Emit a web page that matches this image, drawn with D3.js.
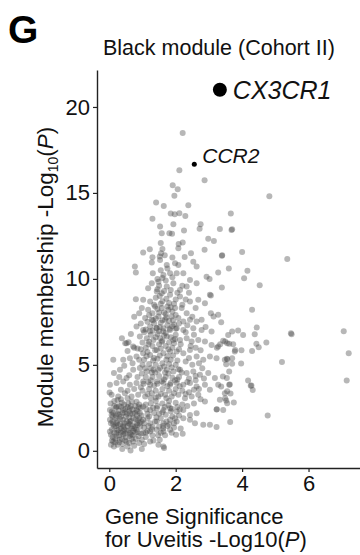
<!DOCTYPE html>
<html>
<head>
<meta charset="utf-8">
<script src="https://cdn.jsdelivr.net/npm/d3@7"></script>
<style>
  body { margin: 0; background: #fff; }
  svg { display: block; font-family: "Liberation Sans", Arial, sans-serif; }
</style>
</head>
<body>
<div id="chart"></div>
<script>
// gene significance (x) / module membership (y), both -log10(P)
const genePoints = [
  [4.82,14.8],[3.66,13.8],[3.33,12.9],[3.68,12.85],[3.7,12.88],[4.0,11.57],[5.36,11.15],[3.39,11.34],[3.6,10.6],[4.16,10.48],
  [4.06,10.04],[4.53,9.63],[3.39,9.5],[4.3,8.2],[3.37,7.48],[4.44,7.17],[3.88,7.0],[4.03,6.73],[4.38,6.78],[5.47,6.84],
  [5.49,6.78],[7.06,6.96],[7.21,5.68],[7.15,4.09],[3.58,6.74],[4.73,6.3],[4.43,6.22],[4.5,6.03],[4.3,5.8],[3.98,5.85],
  [3.78,5.77],[3.61,6.22],[3.43,6.4],[5.2,5.17],[3.97,5.08],[3.7,5.06],[3.52,5.04],[3.54,5.35],[3.56,5.33],[3.7,5.39],
  [3.61,4.61],[4.18,4.09],[4.26,3.78],[4.28,3.8],[4.32,3.53],[3.54,4.23],[3.61,3.84],[3.63,3.86],[3.37,3.74],[3.65,3.33],
  [3.55,3.47],[3.33,2.97],[3.52,2.92],[3.75,2.81],[3.43,2.38],[3.64,1.67],[4.77,2.05],
  [2.21,18.49],[2.11,16.32],[2.87,15.74],[1.91,15.45],[2.06,15.22],[1.96,14.83],[1.41,14.44],[1.64,14.24],[2.38,14.28],[1.85,13.8],
  [1.97,13.76],[2.11,13.82],[2.29,13.66],[1.3,13.5],[1.53,13.04],[1.93,13.18],[2.75,13.18],[2.72,12.92],[1.58,12.66],[1.81,12.66],
  [1.89,12.62],[2.25,12.81],[2.98,12.34],[3.15,12.21],[1.55,12.09],[2.09,12.03],[2.21,12.11],[1.02,11.53],[1.22,11.73],[1.56,11.49],
  [1.67,11.38],[2.08,11.78],[2.46,11.49],[2.87,11.69],[3.4,11.38],[1.3,11.26],[1.52,11.3],[1.9,11.24],[2.27,11.28],[1.6,11.74],
  [1.28,10.95],[1.53,11.1],[1.73,10.81],[1.98,10.91],[2.08,10.81],[2.53,11.0],[2.63,10.72],[0.77,10.72],[0.8,10.37],[1.31,10.33],
  [1.63,10.23],[1.83,10.33],[2.03,10.33],[2.23,10.33],[2.93,10.13],[3.28,10.37],[3.03,9.07],[2.63,9.75],[2.43,9.94],[2.33,9.55],
  [2.13,9.36],[1.93,9.75],[1.73,9.55],[1.48,9.84],[1.28,9.75],[1.17,9.46],[1.43,9.26],[1.58,9.17],[1.83,9.07],[2.13,8.97],
  [2.43,8.68],[2.68,8.78],[2.88,8.59],[0.8,8.82],[1.02,8.78],[1.23,8.68],[0.98,8.3],[1.17,8.2],[1.38,8.39],[1.58,8.3],
  [1.78,8.2],[1.98,8.3],[2.18,8.3],[2.33,8.0],[3.06,8.0],[3.28,7.91],[0.9,8.0],[1.08,7.72],[1.28,7.62],[1.48,7.81],
  [1.68,7.62],[1.88,7.81],[2.08,7.72],[2.23,7.52],[2.43,7.62],[2.63,7.52],[2.78,7.62],[0.82,7.23],[1.02,7.03],[1.23,7.23],
  [1.43,7.13],[1.63,7.13],[1.83,7.03],[2.03,7.13],[2.23,7.03],[2.53,7.13],[2.78,7.03],[3.08,6.94],[0.38,6.55],[0.52,6.26],
  [0.72,6.06],[0.92,6.65],[1.13,6.55],[1.33,6.45],[1.53,6.55],[1.73,6.65],[1.93,6.45],[2.13,6.45],[2.33,6.55],[2.48,6.36],
  [2.68,6.45],[2.88,6.36],[3.08,6.16],[3.28,6.06],[3.55,6.26],[3.79,5.87],[0.12,5.29],[0.42,5.29],[0.62,5.39],[0.82,5.48],
  [1.02,5.68],[1.23,5.58],[1.43,5.87],[1.63,5.68],[1.83,5.77],[2.03,5.77],[2.23,5.68],[2.43,5.87],[2.63,5.48],[2.83,5.29],
  [3.03,5.48],[3.23,5.39],[3.48,5.29],[0.14,4.52],[0.32,4.71],[0.52,4.23],[0.72,4.71],[0.92,4.81],[1.13,4.61],[1.33,4.71],
  [1.53,4.81],[1.73,4.71],[1.93,4.61],[2.13,4.71],[2.33,4.52],[2.53,4.61],[2.73,4.42],[2.98,4.52],[3.18,4.23],[3.42,4.32],
  [0.02,3.84],[0.22,3.94],[0.42,4.03],[0.62,3.84],[0.82,3.94],[1.02,4.03],[1.23,3.84],[1.43,4.03],[1.63,3.94],[1.83,3.84],
  [2.03,3.94],[2.23,3.84],[2.43,3.94],[2.63,3.74],[2.88,3.84],[3.03,3.55],[3.28,3.84],[3.48,3.35],[0.07,3.26],[0.27,3.16],
  [0.47,3.35],[0.67,3.16],[0.87,3.26],[1.08,3.16],[1.28,3.35],[1.48,3.16],[1.68,3.26],[1.88,3.16],[2.08,3.26],[2.28,3.06],
  [2.48,3.16],[2.68,3.26],[2.88,2.87],[3.23,2.4],[0.02,2.38],[0.22,2.58],[0.42,2.38],[0.62,2.48],[0.82,2.38],[1.02,2.58],
  [1.23,2.38],[1.43,2.48],[1.63,2.38],[1.83,2.48],[2.03,2.29],[2.23,2.38],[2.43,2.09],[2.63,2.19],[2.83,1.51],[3.03,1.51],
  [3.23,1.38],[0.02,1.8],[0.22,1.61],[0.42,1.8],[0.62,1.7],[0.82,1.61],[1.02,1.8],[1.23,1.61],[1.43,1.7],[1.63,1.61],
  [1.83,1.8],[2.03,1.7],[2.23,1.9],[2.43,1.8],[2.58,1.61],[0.02,1.12],[0.22,1.03],[0.42,1.12],[0.62,1.03],[0.82,1.22],
  [1.02,1.03],[1.23,1.12],[1.43,1.22],[1.63,1.12],[1.83,1.22],[2.01,0.93],[2.21,0.99],[0.12,0.54],[0.32,0.64],[0.52,0.54],
  [0.72,0.54],[0.98,0.64],[1.23,0.54],[1.48,0.35],[1.63,0.25],[0.14,0.25],[0.39,0.1],[0.64,0.02],[0.98,0.1],[1.65,0.16],
  [0.01,3.39],[0.08,2.29],[0.05,0.93],[3.55,2.77],[3.49,3.06],[3.24,2.42],[0.48,6.26],[0.58,6.32],[0.75,6.0],[3.02,9.99],
  [3.06,9.03],[3.14,7.81],[3.7,6.94],[3.34,6.2],[3.49,6.36],[3.73,6.2],[3.24,6.0],
  [0.1,0.8],[0.3,0.9],[0.5,0.8],[0.7,0.9],[0.15,1.4],[0.35,1.3],[0.55,1.45],[0.75,1.3],[0.1,2.0],[0.3,2.1],
  [0.5,2.0],[0.7,2.15],[0.9,1.9],[0.2,2.5],[0.45,2.7],[0.65,2.6],[0.85,2.3],[0.05,1.6],[0.25,1.75],[0.45,1.6],
  [0.65,1.75],[0.85,1.5],[0.95,1.0],[0.4,0.4],[0.25,0.35],[0.6,0.45],[0.8,0.7],[1.1,0.8],[1.3,1.4],[1.15,1.9],
  [1.35,2.2],[1.1,2.7],[1.4,2.9],[1.55,1.9],[1.7,2.1],[1.9,2.0],[1.5,1.4],[1.75,1.45],[1.95,1.35],[1.05,1.35],
  [0.9,2.7],[0.15,2.9],[0.35,3.0],[0.55,3.05],
  [1.0,3.5],[1.2,3.6],[1.4,3.5],[1.6,3.6],[1.8,3.5],[2.0,3.6],[1.1,4.3],[1.3,4.3],[1.5,4.35],[1.7,4.3],
  [1.9,4.25],[2.1,4.3],[1.0,5.0],[1.2,5.05],[1.4,5.0],[1.6,5.1],[1.8,5.05],[2.0,5.0],[1.1,6.0],[1.3,6.1],
  [1.5,6.2],[1.7,6.1],[1.9,6.0],[2.1,5.9],[1.05,6.9],[1.25,6.75],[1.45,6.8],[1.65,6.7],[1.85,6.6],[1.15,7.5],
  [1.35,7.4],[1.55,7.45],[1.75,7.3],[1.95,7.35],[1.3,8.0],[1.5,8.05],[1.7,7.95],[1.9,8.1],[1.4,8.9],[1.6,8.7],
  [1.8,8.6],[2.0,8.8],[1.5,9.6],[1.7,9.9],[1.9,10.1],[1.55,10.5],[1.75,10.6],[2.2,9.6],[2.3,5.2],[2.5,5.0],
  [2.4,4.2],[2.6,4.1],[2.2,3.5],[2.4,3.4],[2.2,2.7],[2.0,2.8],[1.8,2.9],[1.6,2.75],[2.35,2.6],[2.55,2.75],
  [2.7,3.6],[2.85,4.2],[2.6,6.0],[2.3,6.9],[2.5,7.8],[2.0,7.1],[2.2,8.5],[2.4,9.2],
  [0.05,0.35],[0.18,0.7],[0.28,1.2],[0.38,0.7],[0.47,1.0],[0.58,1.2],[0.68,0.7],[0.78,1.05],[0.88,0.85],[0.93,1.4],
  [0.08,1.25],[0.18,1.9],[0.33,1.55],[0.4,2.2],[0.52,1.7],[0.6,2.3],[0.72,1.9],[0.78,2.6],[0.92,2.2],[0.97,1.7],
  [0.12,2.2],[0.28,2.35],[0.38,2.8],[0.48,2.45],[0.57,2.75],[0.7,2.4],[0.82,2.85],[0.95,2.5],[0.04,2.75],[0.25,2.95],
  [0.15,1.05],[0.33,1.85],[0.45,1.25],[0.62,1.55],[0.72,1.15],[0.87,1.75],[0.3,0.5],[0.55,0.25],[0.75,0.3],[0.9,0.45],
  [0.2,1.45],[0.42,0.95],[0.65,0.95],[0.83,2.05],[0.53,2.15],[0.36,2.55],[0.1,1.7],[0.6,1.95],[0.25,2.15],[0.78,1.4],
  [1.05,0.4],[1.15,1.15],[1.2,2.0],[1.3,0.9],[1.38,1.7],[1.45,2.6],[1.55,1.05],[1.6,2.25],[1.72,1.7],[1.85,2.3],
  [1.12,2.4],[1.25,2.75],[1.33,0.6],[1.52,0.65],[1.68,0.9],[1.78,2.65],[1.95,1.6],[2.1,2.05],[2.15,1.3],[1.05,1.6],
  [1.18,1.45],[1.42,1.95],[1.62,1.3],[1.88,1.05],[2.05,2.55],
  [0.95,3.7],[1.15,3.3],[1.35,3.8],[1.55,3.3],[1.75,3.75],[1.95,3.35],[2.12,3.75],[0.98,4.5],[1.18,4.0],[1.38,4.55],
  [1.58,4.05],[1.78,4.5],[1.98,4.1],[2.18,4.55],[1.05,5.3],[1.25,4.8],[1.45,5.35],[1.65,4.9],[1.85,5.3],[2.05,5.25],
  [0.95,5.9],[1.15,5.75],[1.35,5.4],[1.55,5.95],[1.75,5.5],[1.95,6.25],[2.15,6.2],[1.0,6.3],[1.2,6.35],[1.4,6.6],
  [1.6,6.4],[1.8,6.3],[2.0,6.75],[1.1,7.05],[1.3,7.0],[1.5,6.95],[1.7,6.85],[1.9,7.25],[2.1,7.4],[1.2,7.9],
  [1.4,7.7],[1.6,7.6],[1.8,7.55],[2.0,7.9],[1.35,8.5],[1.55,8.55],[1.75,8.4],[1.95,8.55],[1.45,9.4],[1.65,9.3],
  [1.85,9.35],[2.05,9.2],[1.6,10.05],[1.45,10.0],
  [0.35,3.55],[0.55,3.5],[0.75,3.6],[0.3,4.3],[0.6,4.4],[0.85,4.3],[0.45,4.95],[0.7,5.1],[0.9,5.3],[0.55,5.8],
  [0.85,5.95],[0.65,6.8],[0.95,7.4],[0.75,7.8],
  [2.3,3.3],[2.55,3.55],[2.75,3.0],[2.35,4.0],[2.6,4.35],[2.8,4.8],[2.4,5.4],[2.7,5.1],[2.45,6.1],[2.75,5.85],
  [2.55,6.75],[2.9,7.2],[2.35,7.3],[2.6,8.3],[2.3,8.8],
  [0.08,0.6],[0.22,0.85],[0.35,1.05],[0.48,0.6],[0.62,0.85],[0.85,1.1],[0.12,1.55],[0.27,1.5],[0.43,1.4],[0.58,1.6],
  [0.7,1.45],[0.92,1.6],[0.07,2.1],[0.2,2.05],[0.35,2.0],[0.47,2.25],[0.63,2.15],[0.77,2.2],[0.88,2.55],[0.3,2.6],
  [0.55,2.55],[0.68,2.85],[0.15,2.6],[0.42,1.45],[0.52,1.15],[0.67,1.3],[0.8,1.85],[0.97,2.05],[0.25,1.2],[0.18,0.5],
  [1.03,3.9],[1.25,4.1],[1.45,3.9],[1.65,4.15],[1.85,3.95],[2.05,4.15],[1.08,4.8],[1.28,4.55],[1.48,4.7],[1.68,4.55],
  [1.88,4.85],[2.08,4.75],[1.12,5.5],[1.32,5.25],[1.52,5.55],[1.72,5.3],[1.92,5.55],[1.18,6.2],[1.38,5.85],[1.58,6.35],
  [1.78,5.9],[1.98,6.5],[1.22,6.95],[1.42,7.15],[1.62,6.95],[1.82,7.1],[1.32,7.6],[1.52,7.2],[1.72,7.75],[1.92,7.6],
  [1.45,8.25],[1.65,8.05],[1.85,8.35],[1.52,9.0],[1.72,8.85],
  [1.1,1.05],[1.28,1.25],[1.47,0.9],[1.62,1.45],[1.8,1.55],[1.98,1.9],[1.15,2.15],[1.32,2.5],[1.5,2.15],[1.67,2.55],
  [1.88,2.45],[2.12,2.4],[1.4,3.1],[1.72,3.05],[1.25,3.05]
];

const hubGenes = ["CX3CR1", "CCR2"];
const hubGS = [3.33, 2.56];
const hubMM = [21.0, 16.67];

const xTicks = [0, 2, 4, 6];
const yTicks = [0, 5, 10, 15, 20];

const width = 360, height = 555;
const plot = { left: 97, right: 360, top: 70, bottom: 468 };

const svg = d3.select("#chart")
  .append("svg")
  .attr("width", width)
  .attr("height", height);

const x = d3.scaleLinear().domain([-0.37, 7.55]).range([plot.left, plot.right]);
const y = d3.scaleLinear().domain([-1, 22.15]).range([plot.bottom, plot.top]);

// points
svg.append("g")
  .selectAll("circle")
  .data(genePoints)
  .join("circle")
  .attr("cx", d => x(d[0]))
  .attr("cy", d => y(d[1]))
  .attr("r", 3)
  .attr("fill", "#4a4a4a")
  .attr("fill-opacity", 0.4);

// axes
const xAxis = svg.append("g")
  .attr("transform", `translate(0,${plot.bottom})`)
  .call(d3.axisBottom(x).tickValues(xTicks).tickSize(4).tickSizeOuter(0).tickPadding(3));

const yAxis = svg.append("g")
  .attr("transform", `translate(${plot.left},0)`)
  .call(d3.axisLeft(y).tickValues(yTicks).tickSize(4).tickSizeOuter(0).tickPadding(3));

[xAxis, yAxis].forEach(a => {
  a.select(".domain").attr("stroke", "#222").attr("stroke-width", 1.4);
  a.selectAll(".tick line").attr("stroke", "#222").attr("stroke-width", 1.2);
  a.selectAll(".tick text")
    .attr("fill", "#111")
    .attr("font-size", 22)
    .attr("font-family", "Liberation Sans, Arial, sans-serif");
});

// highlighted genes
const hubs = hubGenes.map((g, i) => ({ gene: g, gs: hubGS[i], mm: hubMM[i] }));

svg.selectAll(".hub")
  .data(hubs)
  .join("circle")
  .attr("class", "hub")
  .attr("cx", d => x(d.gs))
  .attr("cy", d => y(d.mm))
  .attr("r", (d, i) => i === 0 ? 7 : 2.5)
  .attr("fill", "#000");

svg.selectAll(".hub-label")
  .data(hubs)
  .join("text")
  .attr("class", "hub-label")
  .attr("x", (d, i) => x(d.gs) + (i === 0 ? 13 : 8))
  .attr("y", (d, i) => y(d.mm) + (i === 0 ? 9 : -1))
  .attr("font-size", (d, i) => i === 0 ? 25 : 21)
  .attr("font-style", "italic")
  .attr("fill", "#111")
  .text(d => d.gene);

// titles
svg.append("text")
  .attr("x", 8)
  .attr("y", 43)
  .attr("font-size", 39)
  .attr("font-weight", "bold")
  .attr("fill", "#000")
  .text("G");

svg.append("text")
  .attr("x", 103)
  .attr("y", 55)
  .attr("font-size", 21.5)
  .attr("fill", "#111")
  .text("Black module (Cohort II)");

const yLab = svg.append("text")
  .attr("transform", "translate(53,277) rotate(-90)")
  .attr("text-anchor", "middle")
  .attr("font-size", 22.5)
  .attr("fill", "#111");
yLab.append("tspan").text("Module membership -Log");
yLab.append("tspan").attr("font-size", 14).attr("dy", 5).text("10");
yLab.append("tspan").attr("dy", -5).text("(");
yLab.append("tspan").attr("font-style", "italic").text("P");
yLab.append("tspan").text(")");

svg.append("text")
  .attr("x", 105)
  .attr("y", 524)
  .attr("font-size", 22)
  .attr("fill", "#111")
  .text("Gene Significance");

const xLab2 = svg.append("text")
  .attr("x", 105)
  .attr("y", 547)
  .attr("font-size", 22)
  .attr("fill", "#111");
xLab2.append("tspan").text("for Uveitis -Log10(");
xLab2.append("tspan").attr("font-style", "italic").text("P");
xLab2.append("tspan").text(")");
</script>
</body>
</html>
